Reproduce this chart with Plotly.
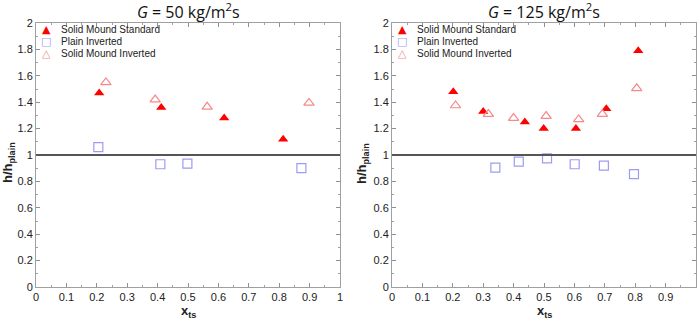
import plotly.graph_objects as go

# ---- data ----
x50_std = [0.208, 0.412, 0.619, 0.813]
y50_std = [1.47, 1.36, 1.28, 1.12]
x50_plain = [0.205, 0.409, 0.498, 0.873]
y50_plain = [1.06, 0.93, 0.935, 0.90]
x50_inv = [0.23, 0.392, 0.563, 0.898]
y50_inv = [1.55, 1.42, 1.365, 1.395]

x125_std = [0.2015, 0.300, 0.437, 0.499, 0.605, 0.705, 0.81]
y125_std = [1.48, 1.33, 1.25, 1.20, 1.20, 1.35, 1.79]
x125_plain = [0.34, 0.417, 0.51, 0.601, 0.697, 0.796]
y125_plain = [0.905, 0.95, 0.975, 0.93, 0.92, 0.855]
x125_inv = [0.209, 0.317, 0.40, 0.507, 0.614, 0.692, 0.805]
y125_inv = [1.375, 1.31, 1.28, 1.295, 1.27, 1.31, 1.505]

xticks = [0, 0.1, 0.2, 0.3, 0.4, 0.5, 0.6, 0.7, 0.8, 0.9, 1]
xticktext = ["0", "0.1", "0.2", "0.3", "0.4", "0.5", "0.6", "0.7", "0.8", "0.9", "1"]
yticks = [0, 0.2, 0.4, 0.6, 0.8, 1, 1.2, 1.4, 1.6, 1.8, 2]
yticktext = ["0", "0.2", "0.4", "0.6", "0.8", "1", "1.2", "1.4", "1.6", "1.8", "2"]
titles = ["<i>G</i> = 50 kg/m<sup>2</sup>s", "<i>G</i> = 125 kg/m<sup>2</sup>s"]
names = ["Solid Mound Standard", "Plain Inverted", "Solid Mound Inverted"]
legend_symbols = ["▲", "□", "△"]

RED = "#ff0000"
BLUE = "#9e9cf0"
PINK = "#f48a8a"
colors = [RED, BLUE, PINK]
FONT = "Liberation Sans, Arial, sans-serif"
TXT = "#222222"

fig = go.Figure()

sets = [
    (x50_std, y50_std, x50_plain, y50_plain, x50_inv, y50_inv, "x", "y"),
    (x125_std, y125_std, x125_plain, y125_plain, x125_inv, y125_inv, "x2", "y2"),
]
for xs, ys, xp, yp, xi, yi, xa, ya in sets:
    fig.add_trace(go.Scatter(x=xs, y=ys, mode="markers", name=names[0], xaxis=xa, yaxis=ya, showlegend=False,
                             marker=dict(symbol="triangle-up", size=9, color=RED, line=dict(width=0))))
    fig.add_trace(go.Scatter(x=xp, y=yp, mode="markers", name=names[1], xaxis=xa, yaxis=ya, showlegend=False,
                             marker=dict(symbol="square-open", size=9, color=BLUE, line=dict(width=1.2))))
    fig.add_trace(go.Scatter(x=xi, y=yi, mode="markers", name=names[2], xaxis=xa, yaxis=ya, showlegend=False,
                             marker=dict(symbol="triangle-up-open", size=9, color=PINK, line=dict(width=1.2))))

W, H = 699, 321


def px(p):
    return p / W


def py(p):
    return 1 - p / H


dom_x1 = [px(36), px(340)]
dom_x2 = [px(392), px(696)]
dom_y = [py(287), py(23)]

axis_common = dict(
    showline=True, linecolor="#a0a0a0", linewidth=1, mirror="ticks",
    showgrid=False, zeroline=False, automargin=False,
    ticks="inside", ticklen=4, tickcolor="#909090", tickwidth=1,
    tickfont=dict(family=FONT, size=11, color=TXT),
)

xcommon = dict(axis_common, range=[0, 1], tickvals=xticks, ticktext=xticktext,
               minor=dict(dtick=0.05, tick0=0, ticks="inside", ticklen=2, tickcolor="#a0a0a0"))
ycommon = dict(axis_common, range=[0, 2], tickvals=yticks, ticktext=yticktext,
               minor=dict(dtick=0.1, tick0=0, ticks="inside", ticklen=2, tickcolor="#a0a0a0"))

annotations = []
for i, (left, ytitle_x) in enumerate([(36, 9), (392, 363)]):
    # title
    annotations.append(dict(text=titles[i], x=px(left + 152), y=py(11), xref="paper", yref="paper",
                            xanchor="center", yanchor="middle", showarrow=False,
                            font=dict(family="Open Sans, sans-serif", size=16, color="#111")))
    # x-axis title
    annotations.append(dict(text="<b>x<sub>ts</sub></b>", x=px(left + 152), y=py(311),
                            xref="paper", yref="paper", xanchor="center", yanchor="middle",
                            showarrow=False, font=dict(family=FONT, size=13, color=TXT)))
    # y-axis title
    annotations.append(dict(text="<b>h/h<sub>plain</sub></b>", x=px(ytitle_x), y=py(163),
                            xref="paper", yref="paper", xanchor="center", yanchor="middle",
                            textangle=-90, showarrow=False, font=dict(family=FONT, size=13, color=TXT)))
    # legend entries
    for k in range(3):
        yk = py(29 + 12.3 * k)
        annotations.append(dict(text=legend_symbols[k], x=px(left + 10), y=yk, xref="paper", yref="paper",
                                xanchor="center", yanchor="middle", showarrow=False,
                                font=dict(family="DejaVu Sans, sans-serif", size=11, color=colors[k])))
        annotations.append(dict(text=names[k], x=px(left + 23), y=yk, xref="paper", yref="paper",
                                xanchor="left", yanchor="middle", showarrow=False,
                                font=dict(family=FONT, size=10, color=TXT)))

fig.update_layout(
    width=W, height=H,
    margin=dict(l=0, r=0, t=0, b=0, autoexpand=False),
    paper_bgcolor="white", plot_bgcolor="white",
    showlegend=False,
    xaxis=dict(xcommon, domain=dom_x1, anchor="y"),
    yaxis=dict(ycommon, domain=dom_y, anchor="x"),
    xaxis2=dict(xcommon, domain=dom_x2, anchor="y2"),
    yaxis2=dict(ycommon, domain=dom_y, anchor="x2"),
    shapes=[
        dict(type="line", xref="x", yref="y", x0=0, x1=1, y0=1, y1=1, line=dict(color="#555", width=2)),
        dict(type="line", xref="x2", yref="y2", x0=0, x1=1, y0=1, y1=1, line=dict(color="#555", width=2)),
    ],
    annotations=annotations,
)

fig.write_html(
    "out.html",
    config={"displayModeBar": False},
    post_script="document.body.style.margin='0px';document.body.style.overflow='hidden';",
)
